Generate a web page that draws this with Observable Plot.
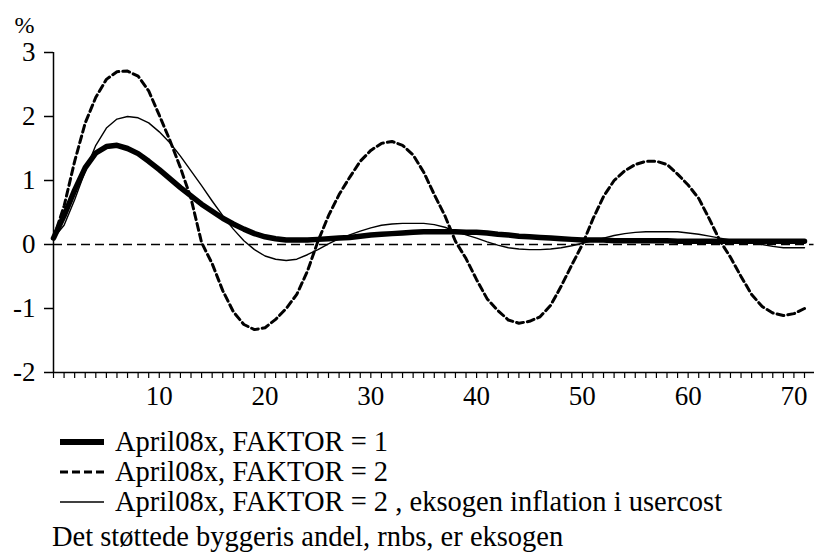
<!DOCTYPE html>
<html>
<head>
<meta charset="utf-8">
<script src="https://cdn.jsdelivr.net/npm/d3@7"></script>
<script src="https://cdn.jsdelivr.net/npm/@observablehq/plot@0.6"></script>
<style>
  body { margin: 0; background: #fff; font-family: "Liberation Serif", "Times New Roman", serif; }
  #wrap { position: relative; width: 814px; height: 556px; }
  #wrap svg text { font-family: "Liberation Serif", "Times New Roman", serif !important; }
  .leg { position: absolute; left: 60px; height: 30px; display: flex; align-items: center; font-size: 28.5px; color: #000; white-space: nowrap; }
  .leg svg { margin-right: 11px; }
  #caption { position: absolute; left: 52px; top: 520px; height: 34px; line-height: 34px; font-size: 28.5px; white-space: nowrap; }
</style>
</head>
<body>
<div id="wrap"></div>
<script>
const periods = d3.range(0, 72);
const faktor1 = [0.10,0.45,0.85,1.20,1.43,1.53,1.55,1.50,1.42,1.30,1.17,1.03,0.89,0.76,0.63,0.52,0.41,0.32,0.24,0.17,
  0.12,0.09,0.07,0.07,0.07,0.08,0.09,0.10,0.11,0.13,0.15,0.16,0.17,0.18,0.19,0.20,0.20,0.20,0.20,0.19,
  0.19,0.18,0.16,0.15,0.13,0.12,0.11,0.10,0.09,0.08,0.07,0.07,0.07,0.06,0.06,0.06,0.06,0.06,0.06,0.05,
  0.05,0.05,0.05,0.05,0.05,0.05,0.05,0.05,0.05,0.05,0.05,0.05];
const faktor2 = [0.10,0.60,1.30,1.90,2.30,2.58,2.70,2.71,2.63,2.40,2.02,1.63,1.20,0.72,0.03,-0.30,-0.72,-1.05,-1.25,-1.33,
  -1.30,-1.17,-1.00,-0.78,-0.42,0.05,0.45,0.78,1.05,1.30,1.47,1.58,1.61,1.55,1.40,1.13,0.78,0.45,0.05,-0.22,
  -0.55,-0.85,-1.03,-1.18,-1.23,-1.20,-1.13,-0.95,-0.65,-0.32,0.00,0.40,0.75,1.00,1.15,1.25,1.30,1.30,1.25,1.10,
  0.93,0.72,0.40,0.06,-0.20,-0.50,-0.78,-0.97,-1.07,-1.11,-1.08,-1.00];
const faktor2eks = [0.10,0.30,0.70,1.15,1.55,1.82,1.96,2.00,1.98,1.90,1.76,1.59,1.38,1.15,0.92,0.68,0.45,0.24,0.06,-0.08,
  -0.18,-0.23,-0.25,-0.23,-0.16,-0.08,0.01,0.09,0.15,0.21,0.26,0.30,0.32,0.33,0.33,0.33,0.31,0.27,0.21,0.15,
  0.10,0.04,-0.01,-0.05,-0.07,-0.08,-0.08,-0.07,-0.05,-0.02,0.02,0.06,0.10,0.14,0.17,0.19,0.20,0.20,0.20,0.20,
  0.18,0.16,0.13,0.10,0.07,0.05,0.03,0.00,-0.03,-0.05,-0.05,-0.05];
const yTicks = [-2, -1, 0, 1, 2, 3];
const xLabels = [10, 20, 30, 40, 50, 60, 70];
const legendLabels = ["April08x, FAKTOR = 1", "April08x, FAKTOR = 2", "April08x, FAKTOR = 2 , eksogen inflation i usercost"];
const captionText = "Det støttede byggeris andel, rnbs, er eksogen";

const mk = (vals) => periods.map((t, i) => ({t, v: vals[i]}));
const serif = "'Liberation Serif', 'Times New Roman', serif";

const chart = Plot.plot({
  width: 814,
  height: 415,
  marginLeft: 53,
  marginRight: 10,
  marginTop: 52,
  marginBottom: 43,
  style: {fontFamily: serif, fontSize: "26px", color: "#000", background: "#fff"},
  x: {domain: [0, 71], clamp: false},
  y: {domain: [-2, 3]},
  marks: [
    Plot.ruleY([0], {x1: 0, x2: 71.9, stroke: "#000", strokeWidth: 1.3, strokeDasharray: "9,5"}),
    Plot.line(mk(faktor2), {x: "t", y: "v", stroke: "#000", strokeWidth: 3, strokeDasharray: "7,4"}),
    Plot.line(mk(faktor2eks), {x: "t", y: "v", stroke: "#000", strokeWidth: 1.4}),
    Plot.line(mk(faktor1), {x: "t", y: "v", stroke: "#000", strokeWidth: 5.5}),
    Plot.ruleY([-2], {x1: 0, x2: 71.95, stroke: "#000", strokeWidth: 1.5}),
    Plot.ruleX([0], {y1: -2, y2: 3, stroke: "#000", strokeWidth: 1.5}),
    Plot.axisY({ticks: yTicks, tickSize: 9, tickPadding: 9, tickFormat: d => d, label: null, strokeWidth: 1.5, fontSize: 27, fontFamily: serif}),
    Plot.axisX({ticks: periods, tickSize: 6, tickPadding: 7, tickFormat: d => xLabels.includes(d) ? d : "", label: null, strokeWidth: 1.2, fontSize: 27, fontFamily: serif}),
    Plot.text(["%"], {frameAnchor: "top-left", dx: -39, dy: -27, lineAnchor: "middle", text: d => d, fontSize: 24, fontFamily: serif, textAnchor: "start"})
  ]
});
const wrap = document.getElementById("wrap");
wrap.appendChild(chart);

const swatches = [
  `<svg width="44" height="10"><line x1="0" y1="5" x2="44" y2="5" stroke="#000" stroke-width="6"/></svg>`,
  `<svg width="44" height="10"><line x1="0" y1="5" x2="44" y2="5" stroke="#000" stroke-width="3" stroke-dasharray="8,4"/></svg>`,
  `<svg width="44" height="10"><line x1="0" y1="5" x2="44" y2="5" stroke="#000" stroke-width="1.4"/></svg>`
];
const tops = [427, 457, 487];
legendLabels.forEach((lab, i) => {
  const d = document.createElement("div");
  d.className = "leg";
  d.style.top = tops[i] + "px";
  d.innerHTML = swatches[i] + `<span>${lab}</span>`;
  wrap.appendChild(d);
});
const c = document.createElement("div");
c.id = "caption";
c.textContent = captionText;
wrap.appendChild(c);
</script>
</body>
</html>
